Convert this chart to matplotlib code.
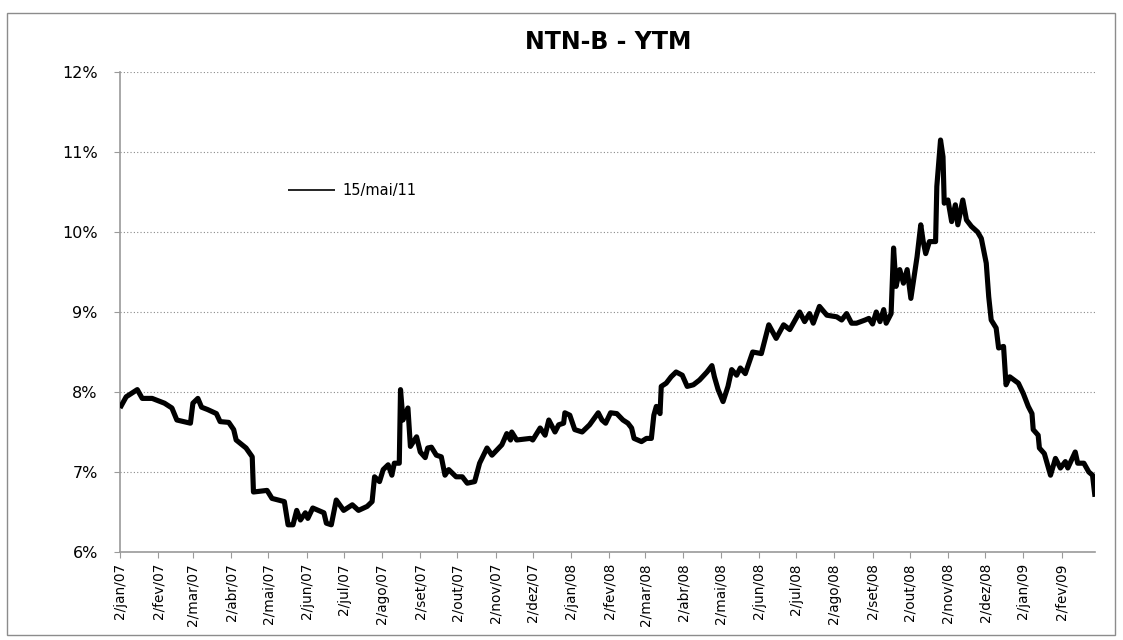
#!/usr/bin/env python3
"""NTN-B yield to maturity, Jan/07 - Feb/09 (values read off the reference chart)."""
import pandas as pd
import matplotlib
matplotlib.use("Agg")
import matplotlib.pyplot as plt
import matplotlib.dates as mdates
from matplotlib.patches import Rectangle
from matplotlib.ticker import FixedLocator, FuncFormatter

plt.rcParams.update({"font.family": ["DejaVu Sans"], "font.size": 10})

# ------------------------------------------------------------------ data
dates = [
    "2007-01-02", "2007-01-07", "2007-01-16", "2007-01-20", "2007-01-28",
    "2007-02-07", "2007-02-13", "2007-02-17", "2007-02-28", "2007-03-02",
    "2007-03-06", "2007-03-09", "2007-03-14", "2007-03-21", "2007-03-24",
    "2007-03-31", "2007-04-04", "2007-04-06", "2007-04-14", "2007-04-19",
    "2007-04-20", "2007-05-01", "2007-05-05", "2007-05-15", "2007-05-18",
    "2007-05-22", "2007-05-25", "2007-05-28", "2007-06-01", "2007-06-03",
    "2007-06-07", "2007-06-16", "2007-06-18", "2007-06-22", "2007-06-26",
    "2007-07-02", "2007-07-09", "2007-07-14", "2007-07-21", "2007-07-25",
    "2007-07-27", "2007-07-31", "2007-08-03", "2007-08-07", "2007-08-10",
    "2007-08-12", "2007-08-16", "2007-08-17", "2007-08-19", "2007-08-23",
    "2007-08-25", "2007-08-30", "2007-09-02", "2007-09-06", "2007-09-08",
    "2007-09-11", "2007-09-15", "2007-09-19", "2007-09-22", "2007-09-25",
    "2007-10-01", "2007-10-06", "2007-10-10", "2007-10-16", "2007-10-20",
    "2007-10-26", "2007-10-30", "2007-11-07", "2007-11-11", "2007-11-14",
    "2007-11-15", "2007-11-19", "2007-11-30", "2007-12-02", "2007-12-08",
    "2007-12-12", "2007-12-15", "2007-12-17", "2007-12-20", "2007-12-23",
    "2007-12-27", "2007-12-28", "2008-01-01", "2008-01-05", "2008-01-11",
    "2008-01-17", "2008-01-24", "2008-01-27", "2008-01-30", "2008-02-03",
    "2008-02-08", "2008-02-13", "2008-02-17", "2008-02-20", "2008-02-22",
    "2008-02-28", "2008-03-03", "2008-03-07", "2008-03-09", "2008-03-11",
    "2008-03-14", "2008-03-15", "2008-03-19", "2008-03-23", "2008-03-27",
    "2008-04-01", "2008-04-05", "2008-04-10", "2008-04-15", "2008-04-21",
    "2008-04-25", "2008-04-27", "2008-04-30", "2008-05-04", "2008-05-08",
    "2008-05-11", "2008-05-15", "2008-05-18", "2008-05-22", "2008-05-28",
    "2008-06-04", "2008-06-10", "2008-06-16", "2008-06-22", "2008-06-27",
    "2008-07-05", "2008-07-09", "2008-07-13", "2008-07-16", "2008-07-21",
    "2008-07-27", "2008-08-04", "2008-08-08", "2008-08-12", "2008-08-16",
    "2008-08-20", "2008-08-27", "2008-08-30", "2008-09-02", "2008-09-05",
    "2008-09-08", "2008-09-11", "2008-09-13", "2008-09-17", "2008-09-19",
    "2008-09-21", "2008-09-24", "2008-09-27", "2008-09-30", "2008-10-03",
    "2008-10-08", "2008-10-11", "2008-10-13", "2008-10-15", "2008-10-18",
    "2008-10-23", "2008-10-24", "2008-10-27", "2008-10-29", "2008-10-30",
    "2008-11-02", "2008-11-05", "2008-11-08", "2008-11-10", "2008-11-14",
    "2008-11-17", "2008-11-21", "2008-11-26", "2008-11-29", "2008-12-03",
    "2008-12-05", "2008-12-07", "2008-12-11", "2008-12-13", "2008-12-17",
    "2008-12-19", "2008-12-22", "2008-12-29", "2009-01-02", "2009-01-06",
    "2009-01-09", "2009-01-10", "2009-01-14", "2009-01-15", "2009-01-19",
    "2009-01-24", "2009-01-28", "2009-02-01", "2009-02-05", "2009-02-07",
    "2009-02-13", "2009-02-15", "2009-02-20", "2009-02-24", "2009-02-27",
    "2009-03-01",
]
ytm = [
    7.80, 7.94, 8.03, 7.92, 7.92,
    7.86, 7.80, 7.65, 7.61, 7.86,
    7.92, 7.81, 7.78, 7.73, 7.63,
    7.62, 7.53, 7.40, 7.30, 7.19,
    6.75, 6.77, 6.67, 6.63, 6.34,
    6.34, 6.52, 6.40, 6.49, 6.42,
    6.55, 6.49, 6.36, 6.34, 6.65,
    6.52, 6.59, 6.52, 6.57, 6.63,
    6.94, 6.88, 7.03, 7.09, 6.96,
    7.11, 7.11, 8.03, 7.65, 7.80,
    7.32, 7.44, 7.25, 7.18, 7.30,
    7.31, 7.21, 7.19, 6.96, 7.03,
    6.94, 6.94, 6.86, 6.88, 7.11,
    7.30, 7.21, 7.34, 7.48, 7.40,
    7.50, 7.40, 7.42, 7.40, 7.55,
    7.46, 7.65, 7.59, 7.50, 7.59,
    7.61, 7.74, 7.71, 7.53, 7.50,
    7.59, 7.74, 7.65, 7.61, 7.74,
    7.73, 7.65, 7.61, 7.55, 7.42,
    7.38, 7.42, 7.42, 7.71, 7.82,
    7.73, 8.07, 8.11, 8.19, 8.25,
    8.21, 8.07, 8.09, 8.15, 8.25,
    8.33, 8.19, 8.03, 7.88, 8.07,
    8.28, 8.21, 8.30, 8.23, 8.50,
    8.48, 8.84, 8.67, 8.84, 8.78,
    9.00, 8.88, 8.98, 8.86, 9.07,
    8.96, 8.94, 8.90, 8.98, 8.86,
    8.86, 8.90, 8.92, 8.85, 9.00,
    8.88, 9.03, 8.86, 8.98, 9.80,
    9.32, 9.53, 9.36, 9.53, 9.17,
    9.69, 10.09, 9.88, 9.73, 9.88,
    9.88, 10.57, 11.15, 10.94, 10.36,
    10.40, 10.13, 10.34, 10.09, 10.40,
    10.15, 10.07, 10.00, 9.92, 9.61,
    9.19, 8.90, 8.80, 8.55, 8.57,
    8.09, 8.19, 8.11, 7.98, 7.82,
    7.73, 7.53, 7.46, 7.30, 7.23,
    6.96, 7.17, 7.05, 7.13, 7.05,
    7.25, 7.11, 7.11, 7.00, 6.96,
    6.69,
]
series_label = "15/mai/11"
title = "NTN-B - YTM"
month_abbr = ["jan", "fev", "mar", "abr", "mai", "jun",
              "jul", "ago", "set", "out", "nov", "dez"]
tick_dates = pd.date_range("2007-01-01", "2009-02-01", freq="MS") + pd.Timedelta(days=1)
tick_labels = [f"2/{month_abbr[d.month - 1]}/{d.strftime('%y')}" for d in tick_dates]
y_ticks = [6, 7, 8, 9, 10, 11, 12]

# ------------------------------------------------------------------ figure
fig = plt.figure(figsize=(11.23, 6.40), dpi=100)
fig.patches.append(Rectangle((7 / 1123, 1 - 635 / 640), 1108 / 1123, 622 / 640,
                             transform=fig.transFigure, fill=False,
                             edgecolor="#8c8c8c", lw=1.0))
ax = fig.add_axes([120 / 1123, 1 - 552 / 640, 975 / 1123, 480 / 640])

x = pd.to_datetime(dates)
ax.plot(x, ytm, color="black", lw=3.7, solid_joinstyle="round",
        solid_capstyle="butt", label=series_label, zorder=3)

ax.set_ylim(6, 12)
ax.set_xlim(x[0], x[-1])
ax.yaxis.set_major_locator(FixedLocator(y_ticks))
ax.yaxis.set_major_formatter(FuncFormatter(lambda v, _: f"{v:.0f}%"))
ax.xaxis.set_major_locator(FixedLocator(mdates.date2num(tick_dates)))
ax.set_xticklabels(tick_labels, rotation=90, ha="center", va="top")

ax.grid(axis="y", color="#8a8a8a", ls=(0, (1, 2)), lw=0.8)
ax.set_axisbelow(True)
for s in ("top", "right"):
    ax.spines[s].set_visible(False)
for s in ("left", "bottom"):
    ax.spines[s].set_color("#9a9a9a")
    ax.spines[s].set_linewidth(1.2)
ax.tick_params(axis="y", direction="out", length=4, color="#9a9a9a",
               pad=12, labelsize=11.5)
ax.tick_params(axis="x", direction="out", length=4, color="#9a9a9a",
               pad=4, labelsize=9.8)

fig.text(608 / 1123, 1 - 42 / 640, title, ha="center", va="center",
         fontsize=17, fontweight="bold")

leg = ax.legend(loc="center left", bbox_to_anchor=(288 / 1123, 1 - 191 / 640),
                bbox_transform=fig.transFigure, frameon=False, borderpad=0,
                borderaxespad=0, handlelength=3.2, handletextpad=0.5,
                fontsize=10.5)
leg.get_lines()[0].set_linewidth(1.2)

fig.savefig("out.png", dpi=100)
